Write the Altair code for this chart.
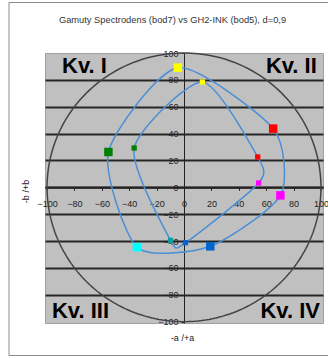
import altair as alt
import numpy as np
import pandas as pd

TITLE = "Gamuty Spectrodens (bod7) vs GH2-INK (bod5), d=0,9"

# ink order around each gamut outline
inks = ["Y", "R", "M", "B", "C", "G"]

# bod7 (Spectrodens) a*/b* coordinates
bod7_a = [-4.5, 65.1, 70.4, 19.2, -34.4, -55.2]
bod7_b = [89.1, 43.7, -6.0, -43.9, -44.5, 26.3]

# bod5 (GH2-INK) a*/b* coordinates
bod5_a = [13.4, 53.8, 54.5, 1.1, -9.8, -36.4]
bod5_b = [78.4, 22.6, 3.2, -41.2, -39.5, 29.3]

tick_values = [-100, -80, -60, -40, -20, 0, 20, 40, 60, 80, 100]

quadrant_names = ["Kv. I", "Kv. II", "Kv. III", "Kv. IV"]

# ---- styling -------------------------------------------------------------
FONT = "Liberation Sans"
INK = "#222222"
GAMUT_LINE = "#4a8fd6"
marker_colors = {
    ("bod7", "Y"): "#ffff00", ("bod7", "R"): "#ff0000", ("bod7", "M"): "#ff00ff",
    ("bod7", "B"): "#0066cc", ("bod7", "C"): "#00ffff", ("bod7", "G"): "#008000",
    ("bod5", "Y"): "#ffff00", ("bod5", "R"): "#ff0000", ("bod5", "M"): "#ff00ff",
    ("bod5", "B"): "#0a62d0", ("bod5", "C"): "#0a9e9e", ("bod5", "G"): "#008000",
}
# anchor of each quadrant label in a*/b* units, with its text alignment
quadrant_anchor = {
    "Kv. I": (-89.0, 85.0, "left"),
    "Kv. II": (97.0, 85.0, "right"),
    "Kv. III": (-96.4, -97.5, "left"),
    "Kv. IV": (99.3, -97.5, "right"),
}

# ---- tables --------------------------------------------------------------
rows = []
for set_name, a_vals, b_vals in (("bod7", bod7_a, bod7_b), ("bod5", bod5_a, bod5_b)):
    for i, (ink, a, b) in enumerate(zip(inks, a_vals, b_vals)):
        rows.append({"set": set_name, "ink": ink, "a": a, "b": b, "idx": i,
                     "key": f"{set_name}-{ink}"})
gamut = pd.DataFrame(rows)

color_domain = [f"{s}-{k}" for (s, k) in marker_colors]
color_range = list(marker_colors.values())

# chroma-100 reference circle
theta = np.linspace(0.0, 2.0 * np.pi, 241)
ring = pd.DataFrame({"a": 100.0 * np.cos(theta), "b": 100.0 * np.sin(theta),
                     "i": np.arange(theta.size)})

quad = pd.DataFrame({
    "label": quadrant_names,
    "a": [quadrant_anchor[q][0] for q in quadrant_names],
    "b": [quadrant_anchor[q][1] for q in quadrant_names],
    "align": [quadrant_anchor[q][2] for q in quadrant_names],
})

# ---- scales / axes -------------------------------------------------------
x_scale = alt.Scale(domain=[-101.5, 101.5], nice=False, zero=False)
y_scale = alt.Scale(domain=[-101, 100], nice=False, zero=False)

x_axis = alt.Axis(
    values=tick_values, title="-a /+a", offset=-135.7, grid=False,
    tickSize=3, tickColor=INK, domainColor=INK, domainWidth=2,
    labelPadding=9, labelFlush=False, labelOverlap=False,
    labelFont=FONT, labelFontSize=9, labelColor=INK,
    titleFont=FONT, titleFontSize=9, titleFontWeight="normal", titleColor=INK,
    titleX=137, titleY=150, titleAlign="center", titleBaseline="middle",
)
y_axis = alt.Axis(
    values=tick_values, title="-b /+b", offset=-139, grid=True,
    gridColor="#262626", gridWidth=2,
    gridOpacity={"condition": {"test": "abs(datum.value) >= 100", "value": 0}, "value": 1},
    tickSize=3, tickColor=INK, domainColor=INK, domainWidth=1,
    labelPadding=3, labelFlush=False, labelOverlap=False,
    labelFont=FONT, labelFontSize=9, labelColor=INK,
    titleFont=FONT, titleFontSize=9, titleFontWeight="normal", titleColor=INK,
    titleX=-159, titleY=138, titleAlign="center", titleBaseline="middle", titleAngle=-90,
)

X = alt.X("a:Q", scale=x_scale, axis=x_axis)
Y = alt.Y("b:Q", scale=y_scale, axis=y_axis)

# ---- layers --------------------------------------------------------------
frame = alt.Chart(pd.DataFrame({"k": [0]})).mark_rect(
    color="white", fillOpacity=0, stroke="#8c8c8c", strokeWidth=1
).encode(x=alt.value(-36), x2=alt.value(292), y=alt.value(-50.5), y2=alt.value(302.5))

circle = alt.Chart(ring).mark_line(color="#444444", strokeWidth=1.5).encode(
    x=X, y=Y, order="i:Q"
)

outlines = alt.Chart(gamut).mark_line(
    color=GAMUT_LINE, strokeWidth=1.5, interpolate="cardinal-closed", tension=0.3
).encode(x=X, y=Y, detail="set:N", order="idx:Q")

markers = alt.Chart(gamut).mark_square(opacity=1).encode(
    x=X, y=Y,
    color=alt.Color("key:N", scale=alt.Scale(domain=color_domain, range=color_range), legend=None),
    size=alt.Size("set:N", scale=alt.Scale(domain=["bod7", "bod5"], range=[72, 28]), legend=None),
)

quad_left = alt.Chart(quad[quad["align"] == "left"]).mark_text(
    font=FONT, fontSize=22, fontWeight="bold", color="black", align="left", baseline="alphabetic"
).encode(x=X, y=Y, text="label:N")
quad_right = alt.Chart(quad[quad["align"] == "right"]).mark_text(
    font=FONT, fontSize=22, fontWeight="bold", color="black", align="right", baseline="alphabetic"
).encode(x=X, y=Y, text="label:N")

chart = alt.layer(frame, circle, outlines, markers, quad_left, quad_right).properties(
    width=278,
    height=270,
    padding={"left": 45, "top": 53, "right": 5, "bottom": 35},
    autosize=alt.AutoSizeParams(type="none"),
    background="white",
    title=alt.Title(
        TITLE, font=FONT, fontSize=9.3, fontWeight="normal", color="#333333",
        anchor="middle", frame="group", dx=-11.5, offset=0, baseline="bottom", dy=32.5,
    ),
).configure_view(fill="#c0c0c0", stroke="#a0a0a0", strokeWidth=1)

chart.save("out.html", embed_options={"renderer": "svg", "actions": False})
